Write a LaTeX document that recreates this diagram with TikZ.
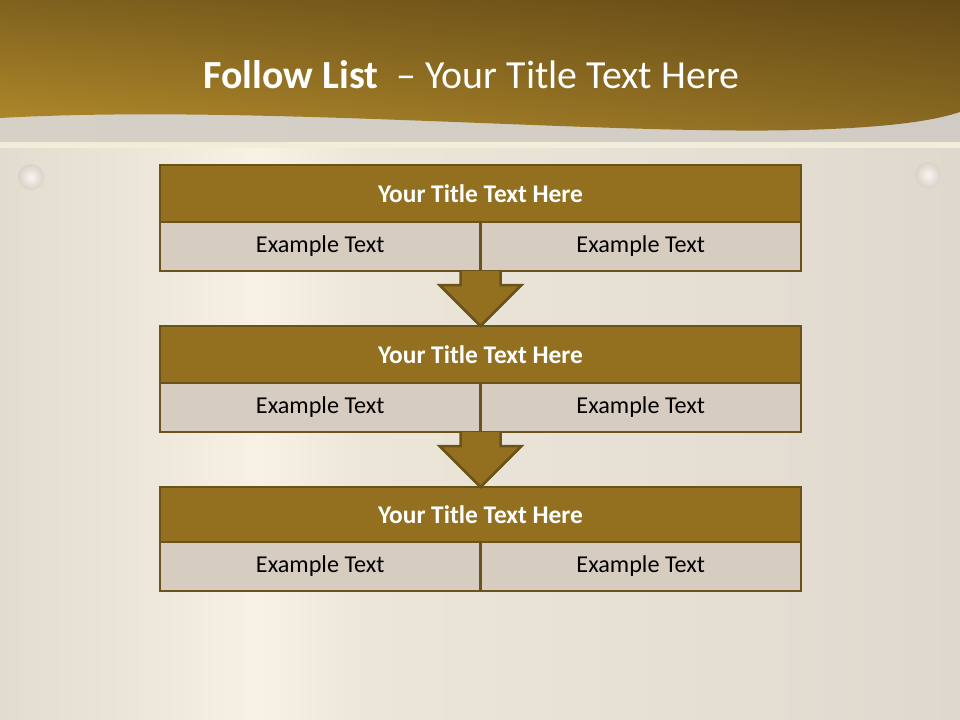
\documentclass[tikz,border=0pt]{standalone}
\usepackage{fontspec}
\setmainfont{Carlito}
\usepackage{tikz}
\usetikzlibrary{
	positioning,
	calc,
	shadings
}

\definecolor{gold}{HTML}{93701F}
\definecolor{golddark}{HTML}{6B5218}
\definecolor{cellfill}{HTML}{D6CCBF}
\definecolor{plateA}{HTML}{E2DCD0}
\definecolor{plateB}{HTML}{ECE6D8}
\definecolor{plateL}{HTML}{F7F2E3}
\definecolor{plateC}{HTML}{E8E2D6}
\definecolor{plateD}{HTML}{DED8CE}
\definecolor{banTL}{HTML}{80621F}
\definecolor{banTR}{HTML}{634915}
\definecolor{banBL}{HTML}{B38B2B}
\definecolor{banBR}{HTML}{8C6C23}
\definecolor{bandL}{HTML}{D6D1C7}
\definecolor{bandM}{HTML}{E2DBCC}
\definecolor{bandR}{HTML}{D0CCC5}
\definecolor{stripcol}{HTML}{F2EDDB}
\definecolor{knobedge}{HTML}{D8D2C6}

\pgfdeclarehorizontalshading{plate}{100bp}{
	color(0bp)=(plateA); color(25bp)=(plateA); color(32bp)=(plateB);
	color(38.5bp)=(plateL); color(44bp)=(plateB); color(55bp)=(plateC);
	color(75bp)=(plateD); color(100bp)=(plateD)}

\begin{document}
\begin{tikzpicture}[x=1bp, y=-1bp,
				headbox/.style={
					rectangle, draw=golddark, line width=2.5bp, fill=gold,
					minimum width=641bp, minimum height=57bp,
					inner sep=0pt, outer sep=0pt,
					text=white, font=\fontsize{25.5}{30}\selectfont\bfseries
				},
				cellbox/.style={
					rectangle, draw=golddark, line width=2.5bp, fill=cellfill,
					minimum width=320.5bp, minimum height=49bp,
					inner sep=0pt, outer sep=0pt,
					font=\fontsize{24.3}{29}\selectfont
				},
				flowarrow/.style={draw=golddark, line width=2.5bp, fill=gold, line join=miter}
				]
				\useasboundingbox (0,0) rectangle (960,720);
				
				% brushed plate
				\shade[shading=plate] (0,0) rectangle (960,720);
				
				% band under the banner
				\shade[left color=bandL, middle color=bandM, right color=bandR] (0,95) rectangle (960,143);
				\fill[stripcol] (0,142) rectangle (960,148);
				
				% banner
				\shade[upper left=banTL, upper right=banTR, lower left=banBL, lower right=banBR]
					(0,0) -- (960,0) -- (960,112)
					.. controls (930,122) and (880,128) .. (800,130)
					.. controls (600,135) and (250,104) .. (0,118) -- cycle;
				
				% knobs
				\shade[inner color=white!80!knobedge, outer color=knobedge] (31,177) circle (13);
				\shade[inner color=white!80!knobedge, outer color=knobedge] (928,175) circle (13);
				
				% title
				\node[text=white, font=\fontsize{40}{48}\selectfont] (title) at (471.5,75)
					{\textbf{Follow List}\ \ -- Your Title Text Here};
				
				% first block
				\node[headbox] (head1) at (480.5,193.5) {Your Title Text Here};
				\node[cellbox, below=0pt of head1.south west, anchor=north west] (left1) {Example Text};
				\node[cellbox, below=0pt of head1.south east, anchor=north east] (right1) {Example Text};
				
				% second block
				\node[headbox, below=55bp of left1.south east] (head2) {Your Title Text Here};
				\node[cellbox, below=0pt of head2.south west, anchor=north west] (left2) {Example Text};
				\node[cellbox, below=0pt of head2.south east, anchor=north east] (right2) {Example Text};
				
				% third block
				\node[headbox, minimum height=55bp, below=55bp of left2.south east] (head3) {Your Title Text Here};
				\node[cellbox, below=0pt of head3.south west, anchor=north west] (left3) {Example Text};
				\node[cellbox, below=0pt of head3.south east, anchor=north east] (right3) {Example Text};
				
				% block arrows between the blocks
				\draw[flowarrow] ($(left1.south east)+(-20,0)$) |- ($(head2.north)+(-41,-41)$)
					-- (head2.north) -- ($(head2.north)+(41,-41)$) -| ($(left1.south east)+(20,0)$);
				\draw[flowarrow] ($(left2.south east)+(-20,0)$) |- ($(head3.north)+(-41,-41)$)
					-- (head3.north) -- ($(head3.north)+(41,-41)$) -| ($(left2.south east)+(20,0)$);
			\end{tikzpicture}
\end{document}
